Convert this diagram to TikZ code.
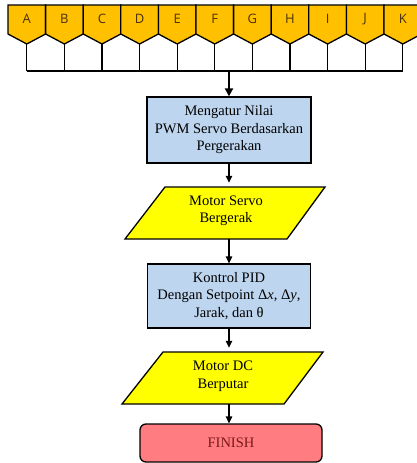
\documentclass[tikz,border=0pt]{standalone}
\usepackage{fontspec}
\setmainfont{Liberation Serif}
\newfontfamily\lettersf{Open Sans}
\usetikzlibrary{arrows.meta}
\definecolor{pentfill}{HTML}{FFC000}
\definecolor{letcol}{HTML}{4A300A}
\definecolor{boxblue}{HTML}{BDD5EE}
\definecolor{paryel}{HTML}{FFFF00}
\definecolor{finfill}{HTML}{FF7C80}
\definecolor{fintext}{HTML}{7A1A1A}
\tikzset{
  pent/.style={draw=black, line width=1.3pt, fill=pentfill, line join=miter},
  letter/.style={font=\lettersf\fontsize{13}{15}\selectfont, text=letcol, inner sep=0pt},
  procbox/.style={draw=black, line width=1.3pt, fill=boxblue, align=center,
    font=\fontsize{14.5}{17.5}\selectfont, inner sep=0pt},
  partext/.style={align=center, font=\fontsize{14.5}{17.5}\selectfont, inner sep=0pt,
    minimum height=52pt, minimum width=120pt},
  parshape/.style={draw=black, line width=1.3pt, fill=paryel},
  finbox/.style={draw=black, line width=1.3pt, fill=finfill, rounded corners=6pt,
    font=\fontsize{14.5}{17.5}\selectfont, text=fintext, inner sep=0pt},
  arr/.style={line width=1.3pt, -{Triangle[length=7pt,width=6.5pt]}},
  thickarr/.style={line width=2.2pt, -{Triangle[length=8pt,width=8pt]}},
}
\begin{document}
\begin{tikzpicture}[x=1pt,y=-1pt]
\useasboundingbox (0,0) rectangle (416,463);
% white boxes below pentagons
\foreach \i in {0,...,10}{
  \pgfmathsetmacro{\xc}{8+37.6*\i+18.8}
  \draw[line width=1.3pt] (\xc,44) -- (\xc,71);
}
\coordinate (bl) at (26.8,71);
\coordinate (br) at (402.8,71);
\draw[line width=1.3pt] (bl) -- (br);
% pentagons
\foreach \i/\L in {0/A,1/B,2/C,3/D,4/E,5/F,6/G,7/H,8/I,9/J,10/K}{
  \pgfmathsetmacro{\xa}{8+37.6*\i}
  \pgfmathsetmacro{\xb}{8+37.6*\i+37.6}
  \pgfmathsetmacro{\xc}{8+37.6*\i+18.8}
  \draw[pent] (\xa,5) -- (\xb,5) -- (\xb,34) -- (\xc,44) -- (\xa,34) -- cycle;
  \node[letter] (p\L) at (\xc,19) {\L};
}
% flowchart
\node[procbox, minimum width=164pt, minimum height=66pt] (b1) at (229,130)
  {Mengatur Nilai\\PWM Servo Berdasarkan\\Pergerakan};
\draw[parshape] (165,187) -- (325,187) -- (287,239) -- (125,239) -- cycle;
\node[partext] (p1) at (226,211) {Motor Servo\\Bergerak};
\node[procbox, minimum width=163pt, minimum height=64pt] (b2) at (229,296)
  {Kontrol PID\\Dengan Setpoint Δ{\itshape x}, Δ{\itshape y},\\Jarak, dan θ};
\draw[parshape] (163,352) -- (323,352) -- (284,404) -- (122,404) -- cycle;
\node[partext] (p2) at (223,376) {Motor DC\\Berputar};
\node[finbox, minimum width=182pt, minimum height=38pt] (fin) at (231,443) {FINISH};
% connectors
\coordinate (start) at (229,71);
\draw[thickarr] (start) -- (b1.north);
\draw[arr] (b1.south) -- ([yshift=2pt]b1.south |- p1.north);
\draw[arr] ([yshift=-2pt]b1.south |- p1.south) -- (b2.north);
\draw[arr] (b2.south) -- ([yshift=2pt]b2.south |- p2.north);
\draw[arr] ([yshift=-2pt]b2.south |- p2.south) -- (b2.south |- fin.north);
\end{tikzpicture}
\end{document}
